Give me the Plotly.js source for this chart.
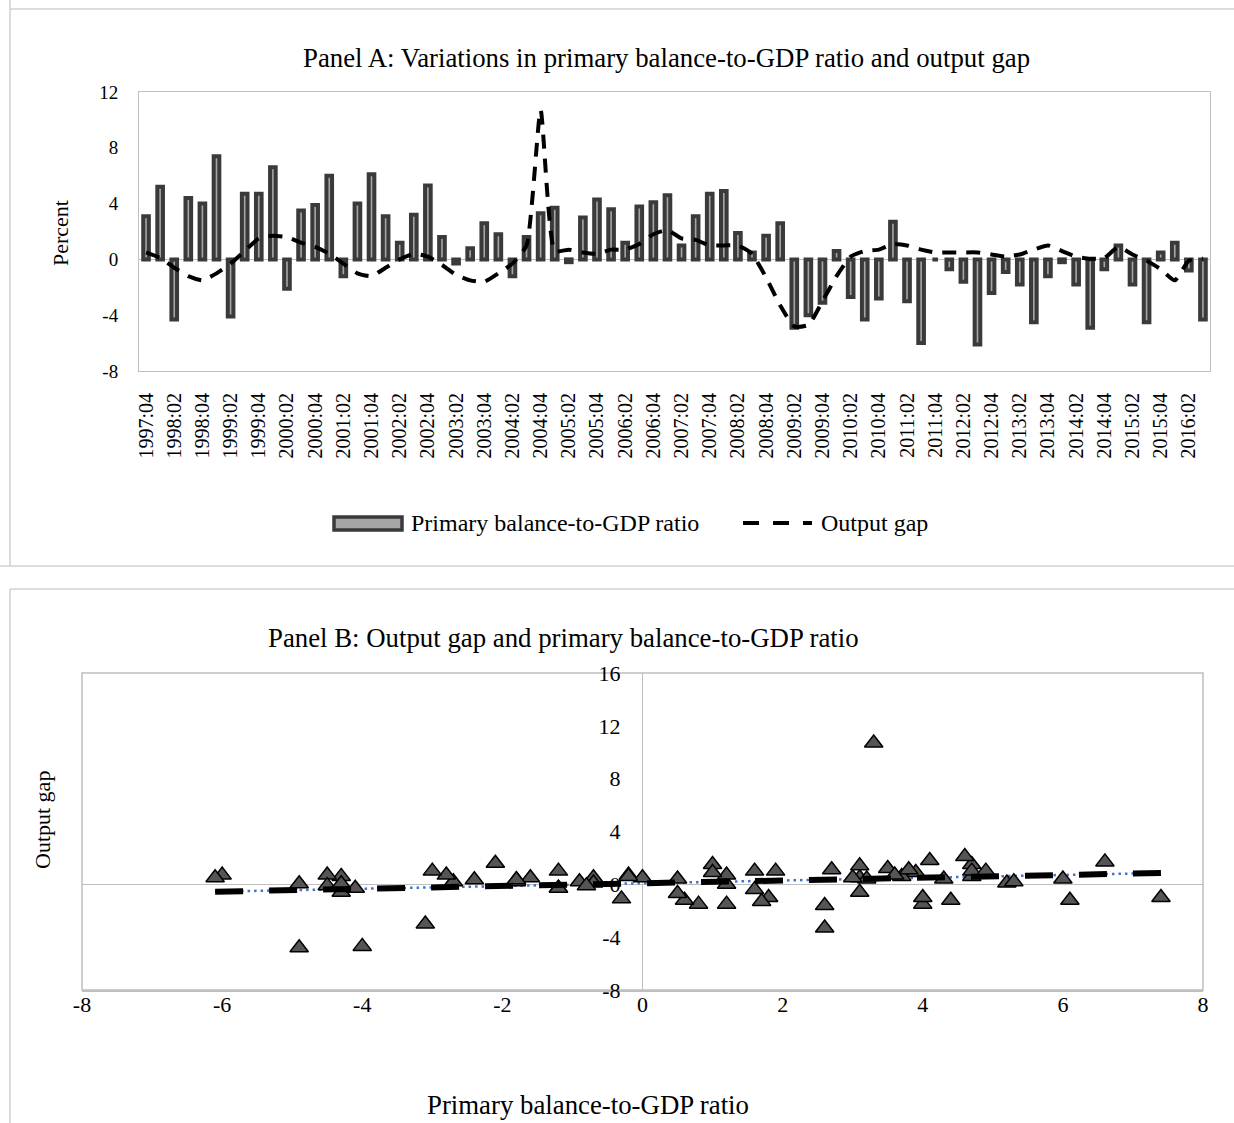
<!DOCTYPE html>
<html><head><meta charset="utf-8">
<script src="https://cdn.plot.ly/plotly-3.0.1.min.js"></script>
<style>html,body{margin:0;padding:0;background:#fff}#chart{width:1234px;height:1123px}</style>
</head><body><div id="chart"></div>
<script>
const quarters = [
 "1997:04",
 "1998:01","1998:02","1998:03","1998:04","1999:01","1999:02","1999:03","1999:04",
 "2000:01","2000:02","2000:03","2000:04","2001:01","2001:02","2001:03","2001:04",
 "2002:01","2002:02","2002:03","2002:04","2003:01","2003:02","2003:03","2003:04",
 "2004:01","2004:02","2004:03","2004:04","2005:01","2005:02","2005:03","2005:04",
 "2006:01","2006:02","2006:03","2006:04","2007:01","2007:02","2007:03","2007:04",
 "2008:01","2008:02","2008:03","2008:04","2009:01","2009:02","2009:03","2009:04",
 "2010:01","2010:02","2010:03","2010:04","2011:01","2011:02","2011:03","2011:04",
 "2012:01","2012:02","2012:03","2012:04","2013:01","2013:02","2013:03","2013:04",
 "2014:01","2014:02","2014:03","2014:04","2015:01","2015:02","2015:03","2015:04",
 "2016:01","2016:02","2016:03"
];
const primaryBalance = [
 3.1, 5.2, -4.3, 4.4, 4.0, 7.4, -4.1, 4.7, 4.7, 6.6,
 -2.1, 3.5, 3.9, 6.0, -1.2, 4.0, 6.1, 3.1, 1.2, 3.2,
 5.3, 1.6, -0.3, 0.8, 2.6, 1.8, -1.2, 1.6, 3.3, 3.7,
 -0.2, 3.0, 4.3, 3.6, 1.2, 3.8, 4.1, 4.6, 1.0, 3.1,
 4.7, 4.9, 1.9, 0.5, 1.7, 2.6, -4.9, -4.0, -3.1, 0.6,
 -2.7, -4.3, -2.8, 2.7, -3.0, -6.0, 0.0, -0.7, -1.6, -6.1,
 -2.4, -0.9, -1.8, -4.5, -1.2, -0.2, -1.8, -4.9, -0.7, 1.0,
 -1.8, -4.5, 0.5, 1.2, -0.8, -4.3
];
const outputGap = [
 0.5, 0.1, -0.6, -1.2, -1.5, -1.0, -0.3, 0.6, 1.5, 1.7,
 1.6, 1.2, 0.9, 0.4, -0.3, -1.0, -1.2, -0.6, 0.0, 0.4,
 0.2, -0.4, -1.1, -1.5, -1.6, -1.0, -0.3, 1.0, 10.7, 0.6,
 0.7, 0.5, 0.4, 0.7, 0.7, 1.1, 1.8, 2.1, 1.5, 1.4,
 1.0, 1.0, 1.0, 0.4, -1.3, -3.3, -4.8, -4.7, -3.0, -1.2,
 0.2, 0.6, 0.7, 1.1, 1.0, 0.7, 0.5, 0.5, 0.5, 0.5,
 0.35, 0.2, 0.35, 0.7, 1.0, 0.6, 0.2, 0.05, 0.1, 0.9,
 0.35, -0.1, -0.7, -1.5, -0.1, 0.05
];
const panelAYTicks = [-8, -4, 0, 4, 8, 12];
const panelBXTicks = [-8, -6, -4, -2, 0, 2, 4, 6, 8];
const panelBYTicks = [-8, -4, 0, 4, 8, 12, 16];
const seriesNames = ["Primary balance-to-GDP ratio", "Output gap"];
const panelATitle = "Panel A: Variations in primary balance-to-GDP ratio and output gap";
const panelBTitle = "Panel B: Output gap and primary balance-to-GDP ratio";
const panelAYTitle = "Percent";
const panelBYTitle = "Output gap";
const panelBXTitle = "Primary balance-to-GDP ratio";

const tickQuarters = quarters.filter((q, i) => i % 2 === 0);
const label = v => String(v); // plain hyphen minus, as in the original

// least squares fit for panel B trend
const n = primaryBalance.length;
const mx = primaryBalance.reduce((a, b) => a + b, 0) / n;
const my = outputGap.reduce((a, b) => a + b, 0) / n;
let sxy = 0, sxx = 0;
for (let i = 0; i < n; i++) { sxy += (primaryBalance[i] - mx) * (outputGap[i] - my); sxx += (primaryBalance[i] - mx) ** 2; }
const slope = sxy / sxx, intercept = my - slope * mx;
const fitX = [Math.min(...primaryBalance), Math.max(...primaryBalance)];
const fitY = fitX.map(x => intercept + slope * x);

const W = 1234, H = 1123;
const FONT = "Liberation Serif, Times New Roman, serif";
const px = v => v / W, py = v => 1 - v / H;
const BAR_FILL = "#a5a5a5", BAR_LINE = "#3a3a3a";

const traces = [
  { type: "bar", x: quarters, y: primaryBalance, name: seriesNames[0], xaxis: "x", yaxis: "y",
    marker: { color: BAR_FILL, line: { color: BAR_LINE, width: 4 } } },
  { type: "scatter", mode: "lines", x: quarters, y: outputGap, name: seriesNames[1], xaxis: "x", yaxis: "y",
    line: { color: "#000", width: 4, dash: "14px,10px", shape: "spline", smoothing: 0.5 } },
  { type: "scatter", mode: "lines", x: fitX, y: fitY, xaxis: "x2", yaxis: "y2",
    line: { color: "#4472c4", width: 2.5, dash: "2.5px,4px" } },
  { type: "scatter", mode: "markers", x: primaryBalance, y: outputGap, xaxis: "x2", yaxis: "y2",
    marker: { symbol: "triangle-up", size: 16, color: "#555555", line: { color: "#000", width: 1.5 } } },
  { type: "scatter", mode: "lines", x: fitX, y: fitY, xaxis: "x2", yaxis: "y2",
    line: { color: "#000", width: 6, dash: "28px,26px" } }
];

const bx0 = 82, bx1 = 1203;
const border = { color: "#d0d0d0", width: 1.5 };
const layout = {
  width: W, height: H, margin: { l: 0, r: 0, t: 0, b: 0 },
  paper_bgcolor: "#fff", plot_bgcolor: "#fff",
  font: { family: FONT, color: "#000", size: 18 },
  bargap: 0.6,
  showlegend: false,
  xaxis: { domain: [px(139), px(1210)], anchor: "y", type: "category",
           tickmode: "array", tickvals: tickQuarters, ticktext: tickQuarters, tickangle: -90,
           tickfont: { family: FONT, size: 20 }, ticks: "", ticklabelstandoff: 13,
           showline: true, linecolor: "#bfbfbf", linewidth: 1, mirror: true, showgrid: false },
  yaxis: { domain: [py(371), py(92)], anchor: "x", range: [-8, 12],
           tickmode: "array", tickvals: panelAYTicks, ticktext: panelAYTicks.map(label),
           tickfont: { family: FONT, size: 19 }, ticks: "", ticklabelstandoff: 16,
           showline: true, linecolor: "#bfbfbf", linewidth: 1, mirror: true, showgrid: false,
           zeroline: true, zerolinecolor: "#bfbfbf", zerolinewidth: 1.5 },
  xaxis2: { domain: [px(bx0), px(bx1)], anchor: "y2", range: [-8, 8],
            tickmode: "array", tickvals: panelBXTicks, ticktext: panelBXTicks.map(label),
            tickfont: { family: FONT, size: 22 }, ticks: "", ticklabelstandoff: -6,
            showline: true, linecolor: "#bfbfbf", linewidth: 1.5, showgrid: false,
            zeroline: true, zerolinecolor: "#bfbfbf", zerolinewidth: 1.5 },
  yaxis2: { domain: [py(990), py(673)], anchor: "free", position: px(bx0) + (px(bx1) - px(bx0)) * 0.5,
            range: [-8, 16], tickmode: "array", tickvals: panelBYTicks, ticktext: panelBYTicks.map(label),
            tickfont: { family: FONT, size: 22 }, ticks: "", ticklabelstandoff: 22,
            showline: false, showgrid: false, zeroline: true, zerolinecolor: "#bfbfbf", zerolinewidth: 1.5 },
  shapes: [
    { type: "line", xref: "paper", yref: "paper", x0: px(10), x1: px(10), y0: py(0), y1: py(566), line: border },
    { type: "line", xref: "paper", yref: "paper", x0: px(0), x1: px(1234), y0: py(566), y1: py(566), line: border },
    { type: "line", xref: "paper", yref: "paper", x0: px(10), x1: px(1234), y0: py(9), y1: py(9), line: border },
    { type: "line", xref: "paper", yref: "paper", x0: px(10), x1: px(1234), y0: py(589), y1: py(589), line: border },
    { type: "line", xref: "paper", yref: "paper", x0: px(10), x1: px(10), y0: py(589), y1: py(1123), line: border },
    { type: "rect", xref: "x2 domain", yref: "y2 domain", x0: 0, x1: 1, y0: 0, y1: 1, layer: "below",
      line: { color: "#bfbfbf", width: 1.5 } },
    // legend keys
    { type: "rect", xref: "paper", yref: "paper", x0: px(334), x1: px(402), y0: py(530), y1: py(517),
      fillcolor: BAR_FILL, line: { color: BAR_LINE, width: 3.5 } },
    { type: "line", xref: "paper", yref: "paper", x0: px(743), x1: px(812), y0: py(523), y1: py(523),
      line: { color: "#000", width: 4, dash: "16px,14px" } }
  ],
  annotations: [
    { text: panelATitle, xref: "paper", yref: "paper", x: px(666), y: py(58), xanchor: "center", yanchor: "middle", showarrow: false, font: { family: FONT, size: 26.8 } },
    { text: panelAYTitle, xref: "paper", yref: "paper", x: px(60), y: py(233), xanchor: "center", yanchor: "middle", showarrow: false, textangle: -90, font: { family: FONT, size: 22 } },
    { text: seriesNames[0], xref: "paper", yref: "paper", x: px(409), y: py(523), xanchor: "left", yanchor: "middle", showarrow: false, font: { family: FONT, size: 24 } },
    { text: seriesNames[1], xref: "paper", yref: "paper", x: px(819), y: py(523), xanchor: "left", yanchor: "middle", showarrow: false, font: { family: FONT, size: 24 } },
    { text: panelBTitle, xref: "paper", yref: "paper", x: px(563), y: py(638), xanchor: "center", yanchor: "middle", showarrow: false, font: { family: FONT, size: 26.8 } },
    { text: panelBYTitle, xref: "paper", yref: "paper", x: px(42), y: py(820), xanchor: "center", yanchor: "middle", showarrow: false, textangle: -90, font: { family: FONT, size: 22 } },
    { text: panelBXTitle, xref: "paper", yref: "paper", x: px(588), y: py(1105), xanchor: "center", yanchor: "middle", showarrow: false, font: { family: FONT, size: 26.8 } }
  ]
};
Plotly.newPlot("chart", traces, layout, { staticPlot: true });
</script></body></html>
